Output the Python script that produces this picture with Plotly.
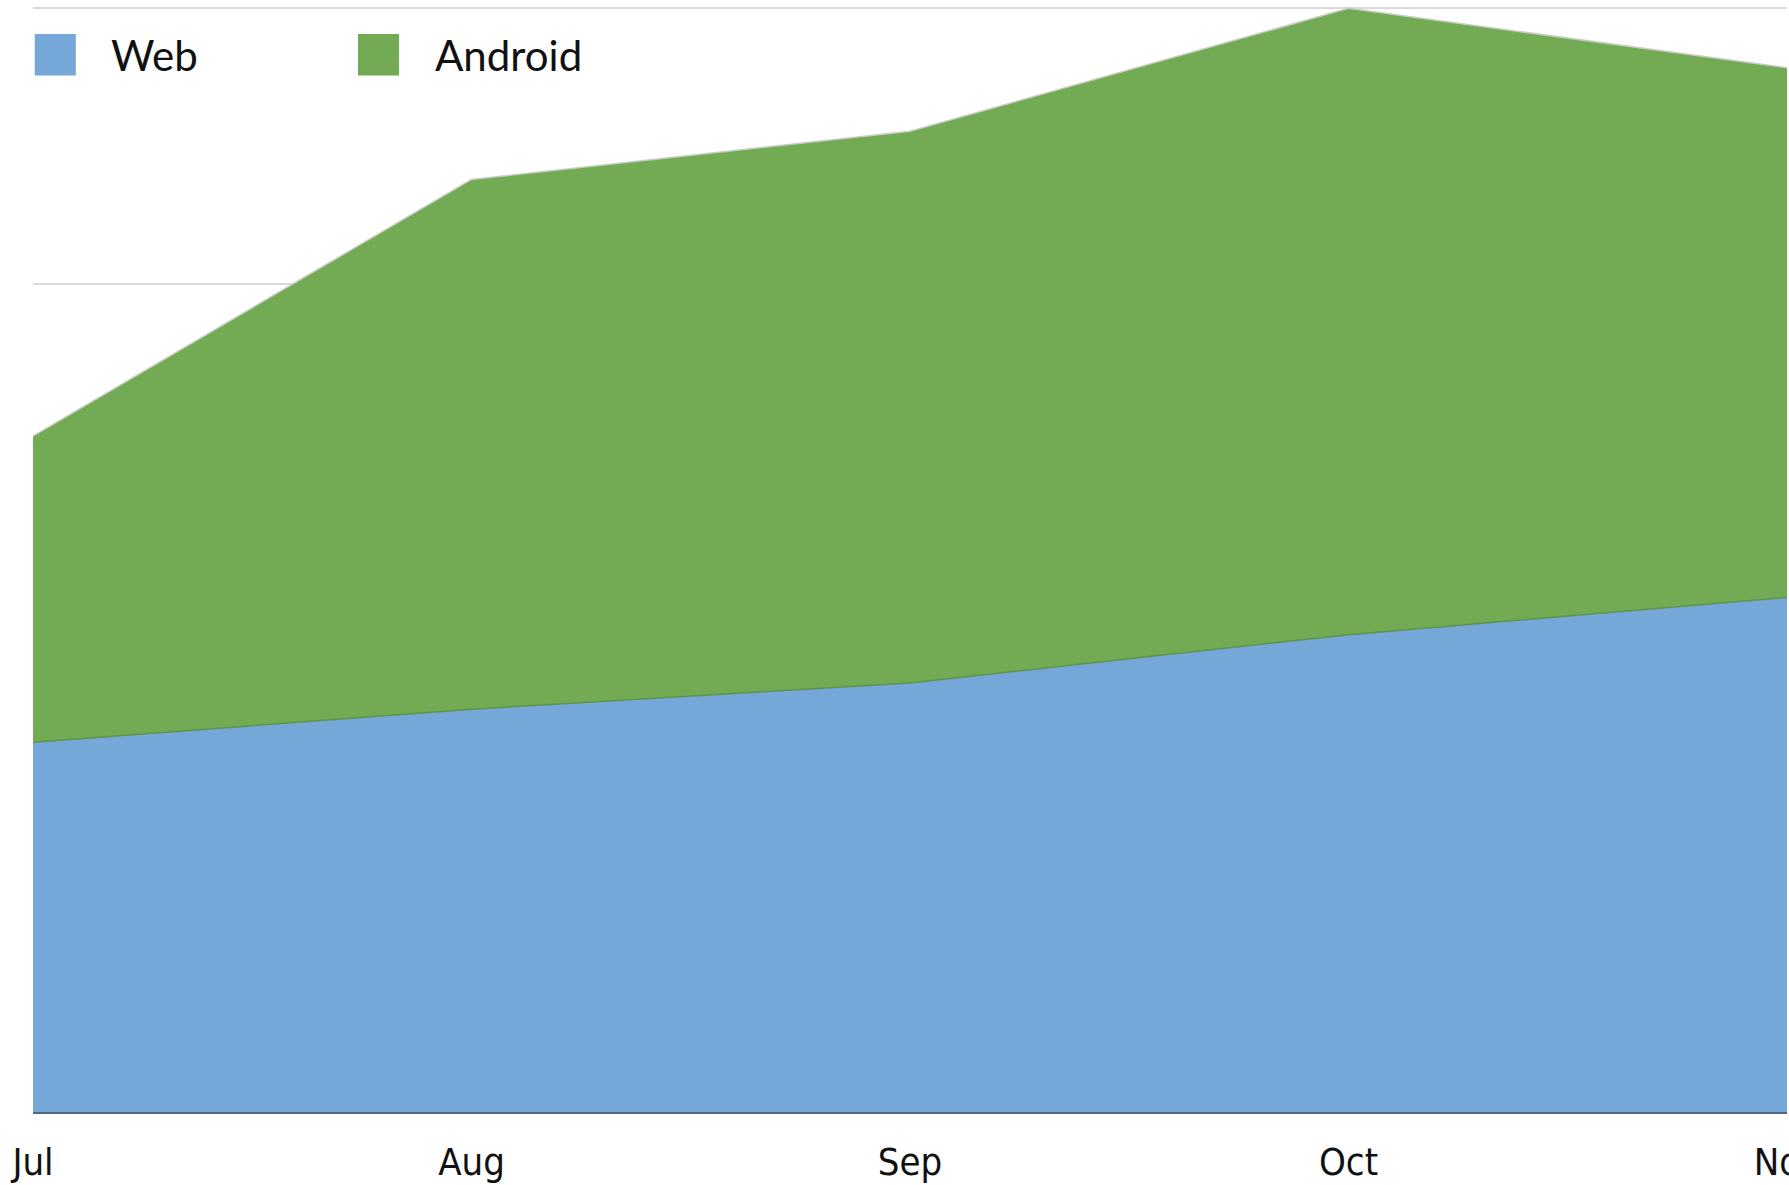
import plotly.graph_objects as go

months = ["Jul", "Aug", "Sep", "Oct", "Nov"]
web = [134, 146, 155.5, 173, 186.5]
android = [111, 192, 200, 227, 192]
series_names = ["Web", "Android"]

WEB_COLOR = "#75a8d8"
ANDROID_COLOR = "#73aa54"

fig = go.Figure()
fig.add_trace(go.Scatter(
    x=months, y=web, name=series_names[0], stackgroup="one", mode="lines",
    line=dict(color="#5e9448", width=1.5), fillcolor=WEB_COLOR, showlegend=False,
))
fig.add_trace(go.Scatter(
    x=months, y=android, name=series_names[1], stackgroup="one", mode="lines",
    line=dict(color="#c8ccc4", width=1.5), fillcolor=ANDROID_COLOR, showlegend=False,
))

# Legend drawn as paper-referenced swatches + text
legend_items = [
    (series_names[0], WEB_COLOR, 0.001, 0.0432),
    (series_names[1], ANDROID_COLOR, 0.1853, 0.2282),
]
for name, color, sx, tx in legend_items:
    fig.add_shape(type="rect", xref="paper", yref="paper",
                  x0=sx, x1=sx + 0.0234, y0=0.938, y1=0.9755,
                  fillcolor=color, line=dict(width=0), layer="above")
    fig.add_annotation(text=name, xref="paper", yref="paper", x=tx, y=0.9565,
                       xanchor="left", yanchor="middle", showarrow=False,
                       font=dict(family="Lato, Open Sans, sans-serif", size=42, color="#111111"))

fig.update_layout(
    width=1789, height=1185,
    margin=dict(l=33, r=2, t=7, b=73),
    paper_bgcolor="white", plot_bgcolor="white",
    showlegend=False,
    xaxis=dict(
        type="category", range=[0, 4], showgrid=False, zeroline=False,
        showline=True, linecolor="#4f6a80", linewidth=2, ticks="",
        automargin=False, ticklabeloverflow="allow", ticklabelstandoff=15,
        tickfont=dict(family="Liberation Sans Narrow, DejaVu Sans Condensed, sans-serif", size=38, color="#111111"),
    ),
    yaxis=dict(
        range=[0, 400.5], tick0=0, dtick=100, showgrid=True, gridcolor="#d9d9d9", gridwidth=1.5,
        showticklabels=False, zeroline=False, showline=False, ticks="", automargin=False,
    ),
)

fig.write_html("out.html", config={"displayModeBar": False},
               post_script="document.body.style.margin='0';")
